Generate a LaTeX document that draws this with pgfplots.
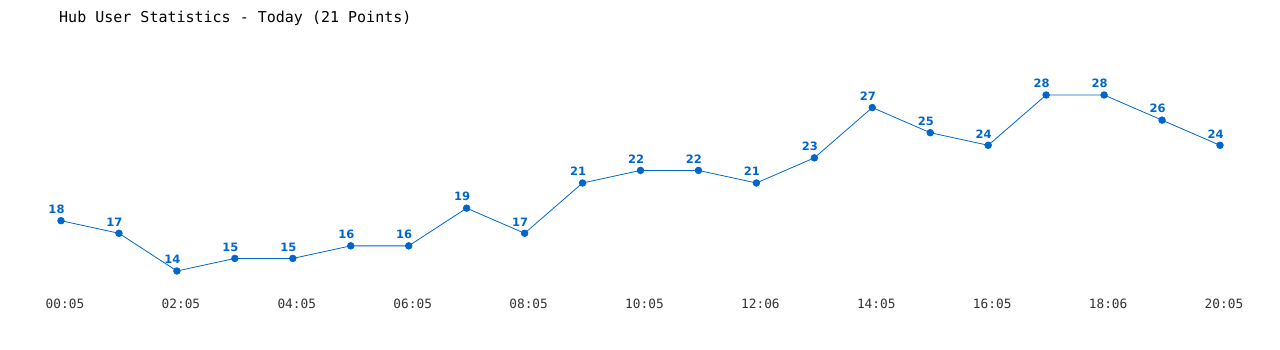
\documentclass[border=0pt]{standalone}
\usepackage{fontspec}
\setmainfont{DejaVu Sans}
\newfontfamily\monofont{DejaVu Sans Mono}
\usepackage{pgfplots}
\pgfplotsset{compat=1.18}
\definecolor{hubblue}{HTML}{0066CC}
\definecolor{ticklab}{HTML}{333333}
\begin{document}
\begin{tikzpicture}[x=1pt,y=1pt]
\useasboundingbox (0,0) rectangle (1280,350);
\node[anchor=base west, inner sep=0pt, font=\monofont\fontsize{15}{16}\selectfont] at (59,327) {Hub User Statistics - Today (21 Points)};
\begin{axis}[
  at={(61pt,79pt)}, anchor=south west,
  scale only axis, width=1159pt, height=176pt,
  xmin=0, xmax=20, ymin=14, ymax=28,
  clip=false,
  axis line style={draw=none},
  tick style={draw=none},
  ytick=\empty,
  xtick={0,2,...,20},
  xticklabels={00:05,02:05,04:05,06:05,08:05,10:05,12:06,14:05,16:05,18:06,20:05},
  xticklabel style={anchor=center, yshift=-33pt, xshift=4pt, font=\monofont\fontsize{12.8}{13}\selectfont, text=ticklab},
  /pgf/number format/assume math mode=true,
  nodes near coords,
  every node near coord/.append style={font=\bfseries\fontsize{11.5}{12}\selectfont, text=hubblue, anchor=south, yshift=3.5pt, xshift=-4.5pt},
]
\addplot[color=hubblue, line width=0.8pt, mark=*, mark size=3.3pt, mark options={fill=hubblue, draw=hubblue}] coordinates {
(0,18) (1,17) (2,14) (3,15) (4,15) (5,16) (6,16) (7,19) (8,17) (9,21) (10,22)
(11,22) (12,21) (13,23) (14,27) (15,25) (16,24) (17,28) (18,28) (19,26) (20,24)
};
\end{axis}
\end{tikzpicture}
\end{document}
